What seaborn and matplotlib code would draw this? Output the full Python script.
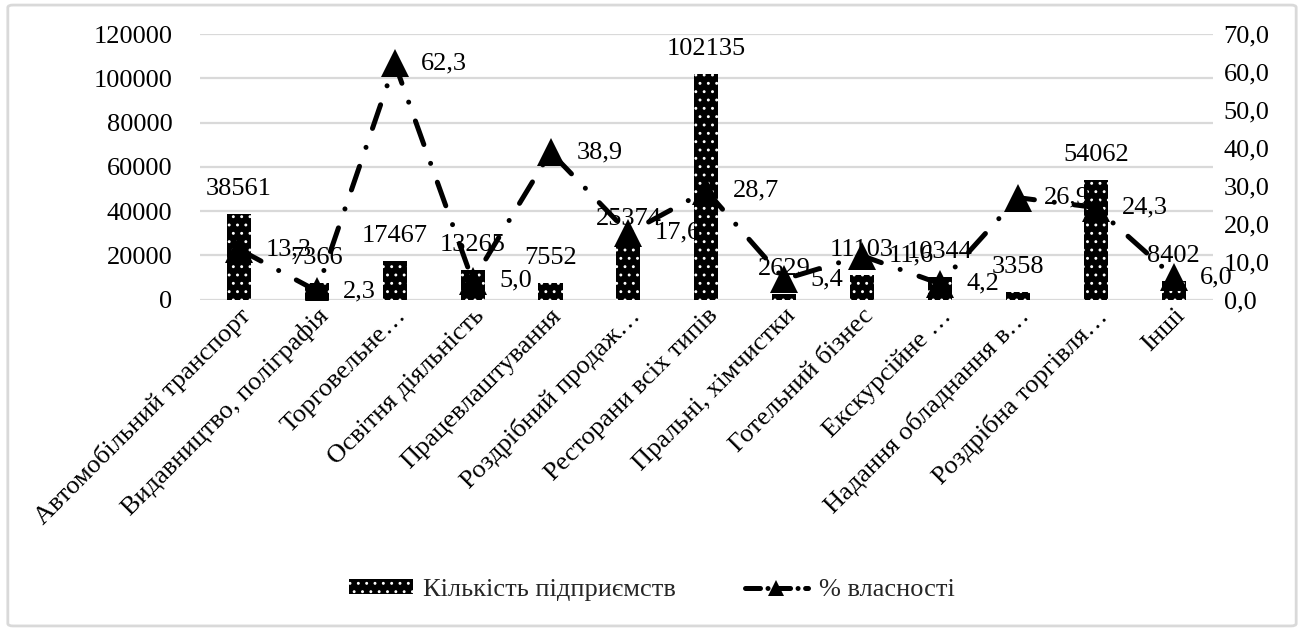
import matplotlib
matplotlib.use("Agg")
import matplotlib.pyplot as plt
import seaborn as sns
import pandas as pd
from matplotlib.patches import Patch, FancyBboxPatch
from matplotlib.lines import Line2D
from matplotlib.ticker import FuncFormatter, MultipleLocator

categories = [
    "Автомобільний транспорт",
    "Видавництво, поліграфія",
    "Торговельне…",
    "Освітня діяльність",
    "Працевлаштування",
    "Роздрібний продаж…",
    "Ресторани всіх типів",
    "Пральні, хімчистки",
    "Готельний бізнес",
    "Екскурсійне …",
    "Надання обладнання в…",
    "Роздрібна торгівля…",
    "Інші",
]
enterprises = [38561, 7366, 17467, 13265, 7552, 25374, 102135, 2629, 11103, 10344, 3358, 54062, 8402]
ownership_pct = [13.3, 2.3, 62.3, 5.0, 38.9, 17.6, 28.7, 5.4, 11.6, 4.2, 26.9, 24.3, 6.0]

bar_label = "Кількість підприємств"
line_label = "% власності"

sns.set_theme(style="white")
plt.rcParams["font.family"] = ["Liberation Serif", "DejaVu Serif"]
plt.rcParams["hatch.linewidth"] = 0.9
FS = 19
DASHES = [5, 4, 0.01, 4]

df = pd.DataFrame({"cat": categories, "n": enterprises, "pct": ownership_pct})
df["pos"] = range(len(df))

fig = plt.figure(figsize=(13.04, 6.31), dpi=100)
ax = fig.add_axes([0.1534, 0.525, 0.7765, 0.421])

sns.barplot(data=df, x="cat", y="n", ax=ax, color="black", width=0.31,
            saturation=1, order=categories)
for p in ax.patches:
    p.set_facecolor("black")
    p.set_edgecolor("white")
    p.set_linewidth(0)
    p.set_hatch("..")

ax.set_ylim(0, 120000)
ax.yaxis.set_major_locator(MultipleLocator(20000))
ax.set_xlim(-0.5, len(categories) - 0.5)
ax.grid(axis="y", color="#d9d9d9", linewidth=1.6)
ax.set_axisbelow(True)
for s in ax.spines.values():
    s.set_visible(False)
ax.set_xlabel("")
ax.set_ylabel("")
ax.tick_params(axis="both", length=0, labelsize=FS, colors="black")
ax.tick_params(axis="y", pad=20)
ax.set_xticks(range(len(categories)))
ax.set_xticklabels(categories, rotation=45, ha="right", rotation_mode="anchor")

for i, v in enumerate(enterprises):
    ax.annotate(f"{v}", (i, v), xytext=(0, 18), textcoords="offset points",
                ha="center", va="center", fontsize=FS, color="black", zorder=5)

ax2 = ax.twinx()
sns.lineplot(data=df, x="pos", y="pct", ax=ax2, color="black", linewidth=3.6,
             marker="^", markersize=20, markeredgewidth=0, legend=False)
ln = ax2.lines[0]
ln.set_dashes(DASHES)
ln.set_dash_capstyle("round")
ax2.set_ylim(0, 70)
ax2.set_xlim(-0.5, len(categories) - 0.5)
ax2.yaxis.set_major_locator(MultipleLocator(10))
ax2.yaxis.set_major_formatter(FuncFormatter(lambda v, _: f"{v:.1f}".replace(".", ",")))
ax2.tick_params(axis="y", length=0, labelsize=FS, colors="black", pad=8)
ax2.set_xlabel("")
ax2.set_ylabel("")
for s in ax2.spines.values():
    s.set_visible(False)

for i, v in enumerate(ownership_pct):
    ax2.annotate(f"{v:.1f}".replace(".", ","), (i, v), xytext=(19, 0),
                 textcoords="offset points", ha="left", va="center",
                 fontsize=FS, color="black")

handles = [
    Patch(facecolor="black", edgecolor="white", hatch="..", linewidth=0),
    Line2D([0], [0], color="black", linewidth=3.6, dashes=[3, 1.5, 0.01, 1.5],
           dash_capstyle="round", marker="^", markersize=12, markeredgewidth=0),
]
fig.legend(handles, [bar_label, line_label], loc="center", bbox_to_anchor=(0.5, 0.065),
           ncol=2, frameon=False, fontsize=FS, handlelength=2.4, handleheight=0.5,
           handletextpad=0.4, columnspacing=2.6)

border = FancyBboxPatch((0.006, 0.008), 0.988, 0.984, boxstyle="round,pad=0,rounding_size=0.004",
                        transform=fig.transFigure, facecolor="none", edgecolor="#d9d9d9",
                        linewidth=2)
fig.patches.append(border)

fig.savefig("out.png", dpi=100, facecolor="white")
